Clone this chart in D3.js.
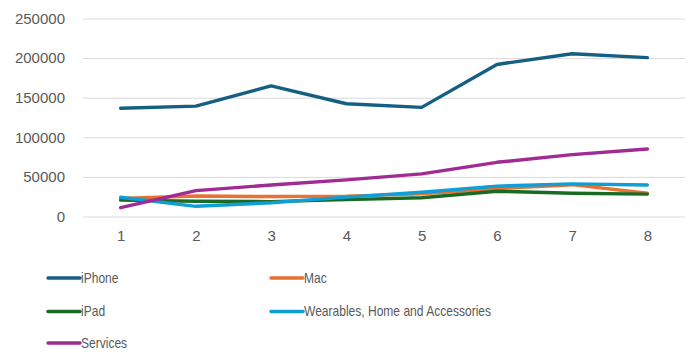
<!DOCTYPE html>
<html>
<head>
<meta charset="utf-8">
<script src="https://cdn.jsdelivr.net/npm/d3@7"></script>
<style>
  body { margin: 0; background: #fff; }
  .tick text { fill: #595959; font-family: "Liberation Sans", Arial, sans-serif; font-size: 15px; }
  .legend text { fill: #595959; font-family: "Liberation Sans Narrow", "Liberation Sans", Arial, sans-serif; font-size: 14px; }
</style>
</head>
<body>
<div id="chart"></div>
<script>
// data
var periods = [1, 2, 3, 4, 5, 6, 7, 8];
var seriesNames = ["iPhone", "Mac", "iPad", "Wearables, Home and Accessories", "Services"];
var iPhone = [136700, 139337, 164888, 142381, 137781, 191973, 205489, 200583];
var mac = [22831, 25850, 25198, 25740, 28622, 35190, 40177, 29357];
var iPad = [20628, 19222, 18805, 21280, 23724, 31862, 29292, 28300];
var wearables = [24348, 12863, 17381, 24482, 30620, 38367, 41241, 39845];
var services = [11132, 32700, 39748, 46291, 53768, 68425, 78129, 85200];
var yTicks = [0, 50000, 100000, 150000, 200000, 250000];
var colors = ["#156082", "#E97132", "#196B24", "#0F9ED5", "#A02B93"];

var svgWidth = 689;
var svgHeight = 353;

var margin = { top: 18.5, left: 83, right: 4 };
var plotBottom = 216.5;

var series = [iPhone, mac, iPad, wearables, services].map(function(vals, i) {
  return { name: seriesNames[i], color: colors[i], values: vals };
});

var svg = d3.select("#chart")
  .append("svg")
  .attr("width", svgWidth)
  .attr("height", svgHeight);

var xScale = d3.scalePoint()
  .domain(periods)
  .range([margin.left, svgWidth - margin.right])
  .padding(0.5);

var yScale = d3.scaleLinear()
  .domain([0, 250000])
  .range([plotBottom, margin.top]);

// gridlines + y labels
var yAxis = svg.append("g")
  .attr("transform", `translate(${margin.left}, 0)`)
  .call(d3.axisLeft(yScale)
    .tickValues(yTicks)
    .tickFormat(d3.format("d"))
    .tickSize(-(svgWidth - margin.right - margin.left))
    .tickPadding(18));
yAxis.select(".domain").remove();
yAxis.selectAll(".tick line").attr("stroke", "#d9d9d9").attr("stroke-width", 1);

// x labels
var xAxis = svg.append("g")
  .attr("transform", `translate(0, ${plotBottom})`)
  .call(d3.axisBottom(xScale).tickSize(0).tickPadding(14));
xAxis.select(".domain").remove();

// lines
var line = d3.line()
  .x(function(d, i) { return xScale(periods[i]); })
  .y(function(d) { return yScale(d); });

svg.selectAll(".series")
  .data(series)
  .enter()
  .append("path")
  .attr("class", "series")
  .attr("d", function(d) { return line(d.values); })
  .attr("fill", "none")
  .attr("stroke", function(d) { return d.color; })
  .attr("stroke-width", 3.4)
  .attr("stroke-linejoin", "round")
  .attr("stroke-linecap", "round");

// legend
var legendX = [48, 271];
var legendY = [278, 311.5, 343];

var legend = svg.selectAll(".legend")
  .data(series)
  .enter()
  .append("g")
  .attr("class", "legend")
  .attr("transform", function(d, i) {
    return `translate(${legendX[i % 2]}, ${legendY[Math.floor(i / 2)]})`;
  });

legend.append("line")
  .attr("x1", 0)
  .attr("x2", 32)
  .attr("stroke", function(d) { return d.color; })
  .attr("stroke-width", 3.4)
  .attr("stroke-linecap", "round");

// narrow look of the original legend font
legend.append("text")
  .attr("transform", "translate(33, 0) scale(0.86, 1)")
  .attr("dy", "0.35em")
  .text(function(d) { return d.name; });
</script>
</body>
</html>
